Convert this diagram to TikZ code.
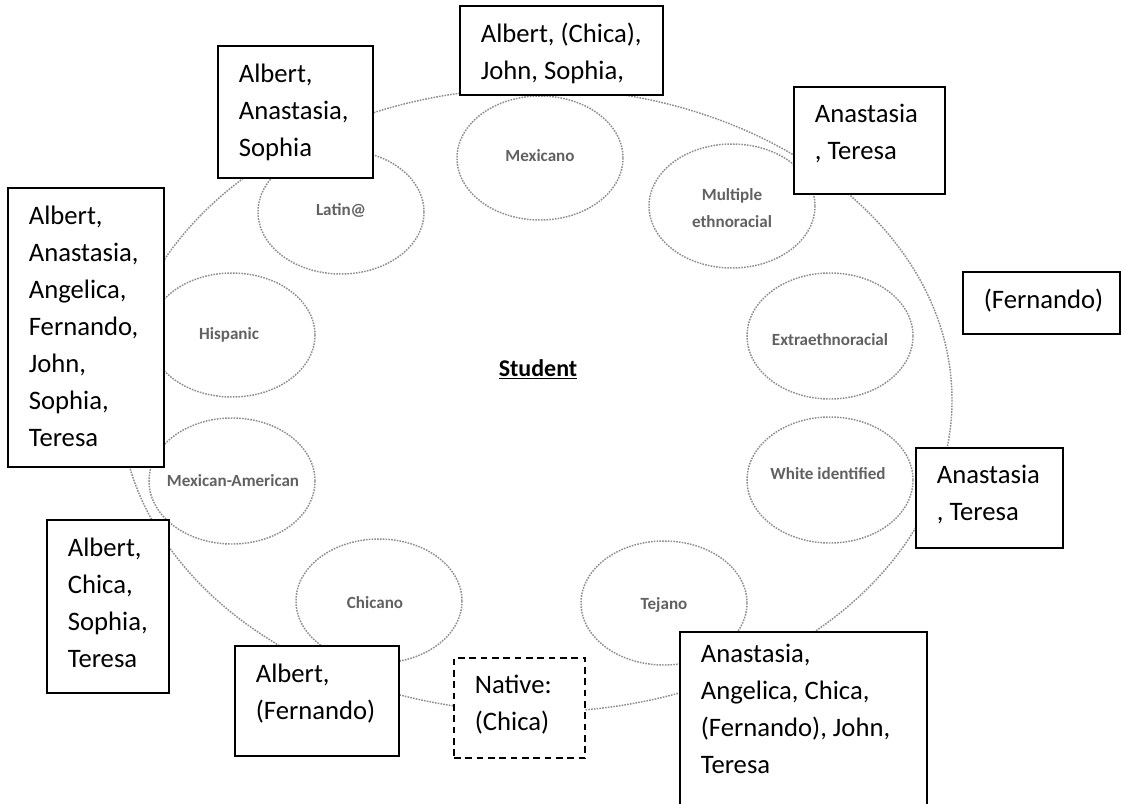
\documentclass[tikz,border=0pt]{standalone}
\usepackage{fontspec}
\setmainfont{Carlito}
\usepackage{tikz}
\usetikzlibrary{positioning}

\newdimen\pxu \pxu=0.75pt
% box text: width, height, lines (optional: first baseline)
\newcommand{\namelist}[4][37]{\parbox[t][#3\pxu][t]{#2\pxu}{\raggedright\leftskip=21\pxu\baselineskip=37\pxu\rule{0pt}{#1\pxu}#4}}

\begin{document}
\begin{tikzpicture}[x=0.75pt,y=-0.75pt,semithick]
 \tikzstyle{ring}=[draw=black!45, line width=1.1pt, dash pattern=on 1.2pt off 0.9pt]
 \tikzstyle{tag}=[font=\fontsize{12.8}{20}\selectfont\bfseries, text=black!62, inner sep=0pt]
 \tikzstyle{namebox}=[draw, fill=white, line width=1.3pt, inner sep=0pt, anchor=north west, font=\fontsize{20}{27.75}\selectfont]
 \path[use as bounding box, clip] (0,0) rectangle (1123,803);

 % the outer ring and the nine groups
 \draw[ring] (536,400) ellipse [x radius=416, y radius=312];
 \draw[ring] (540,158) ellipse [x radius=83, y radius=62];
 \draw[ring] (341,212) ellipse [x radius=83, y radius=62];
 \draw[ring] (732,206) ellipse [x radius=83, y radius=62];
 \draw[ring] (232,335) ellipse [x radius=83, y radius=62];
 \draw[ring] (830,336) ellipse [x radius=83, y radius=63];
 \draw[ring] (232,481) ellipse [x radius=83, y radius=63];
 \draw[ring] (830,480) ellipse [x radius=83, y radius=63];
 \draw[ring] (379,601) ellipse [x radius=83, y radius=62];
 \draw[ring] (664,603) ellipse [x radius=83, y radius=62];

 \node[tag] (mexicano) at (540,156) {Mexicano};
 \node[tag] (latin) at (341,210) {Latin@};
 \node[tag, align=center] (multiple) at (732,208) {Multiple\\ethnoracial};
 \node[tag] (hispanic) at (229,335) {Hispanic};
 \node[tag] (extra) at (830,340) {Extraethnoracial};
 \node[tag] (mexam) at (233,481) {Mexican-American};
 \node[tag] (white) at (828,474) {White identified};
 \node[tag] (chicano) at (375,603) {Chicano};
 \node[tag] (tejano) at (664,605) {Tejano};
 \node[font=\fontsize{18}{22}\selectfont\bfseries, anchor=base] (student) at (538,376) {\underline{Student}};

 % who named each label
 \node[namebox] (mexicanoBox) at (459,5) {\namelist{203}{89}{Albert, (Chica),\\John, Sophia,}};
 \node[namebox] (latinBox) at (217,45) {\namelist{155}{132}{Albert,\\Anastasia,\\Sophia}};
 \node[namebox] (hispanicBox) at (7,187) {\namelist{156}{279}{Albert,\\Anastasia,\\Angelica,\\Fernando,\\John,\\Sophia,\\Teresa}};
 \node[namebox] (mexamBox) at (46,519) {\namelist{122}{173}{Albert,\\Chica,\\Sophia,\\Teresa}};
 \node[namebox] (chicanoBox) at (234,645) {\namelist{164}{110}{Albert,\\(Fernando)}};
 \node[namebox, dash pattern=on 5pt off 3.5pt] (nativeBox) at (453,657) {\namelist[36]{131}{100}{Native:\\(Chica)}};
 \node[namebox] (tejanoBox) at (679,631) {\namelist[31]{247}{200}{Anastasia,\\Angelica, Chica,\\(Fernando), John,\\Teresa}};
 \node[namebox] (multipleBox) at (793,86) {\namelist[36]{151}{107}{Anastasia\\, Teresa}};
 \node[namebox] (extraBox) at (962,271) {\namelist{157}{62}{(Fernando)}};
 \node[namebox] (whiteBox) at (915,447) {\namelist[36]{147}{100}{Anastasia\\, Teresa}};
\end{tikzpicture}
\end{document}
